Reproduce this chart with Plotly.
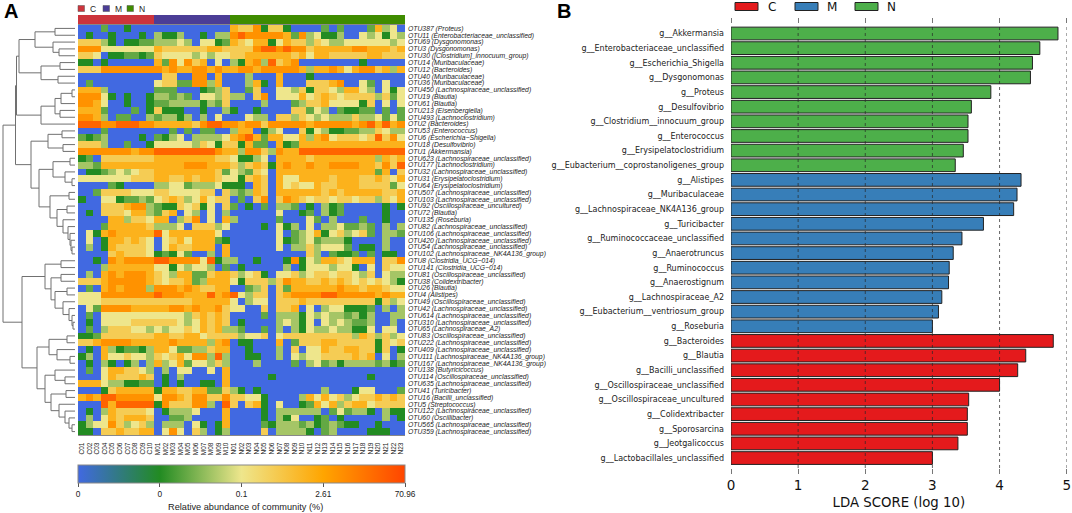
import plotly.graph_objects as go

W, H = 1072, 513

OTU_LABELS = ["OTU387 (Proteus)", "OTU11 (Enterobacteriaceae_unclassified)", "OTU69 (Dysgonomonas)", "OTU3 (Dysgonomonas)",
 "OTU30 ([Clostridium]_innocuum_group)", "OTU14 (Muribaculaceae)", "OTU12 (Bacteroides)", "OTU40 (Muribaculaceae)",
 "OTU36 (Muribaculaceae)", "OTU450 (Lachnospiraceae_unclassified)", "OTU19 (Blautia)", "OTU61 (Blautia)",
 "OTU213 (Eisenbergiella)", "OTU493 (Lachnoclostridium)", "OTU2 (Bacteroides)", "OTU53 (Enterococcus)",
 "OTU6 (Escherichia−Shigella)", "OTU18 (Desulfovibrio)", "OTU1 (Akkermansia)", "OTU623 (Lachnospiraceae_unclassified)",
 "OTU177 (Lachnoclostridium)", "OTU32 (Lachnospiraceae_unclassified)", "OTU31 (Erysipelatoclostridium)", "OTU64 (Erysipelatoclostridium)",
 "OTU507 (Lachnospiraceae_unclassified)", "OTU103 (Lachnospiraceae_unclassified)", "OTU92 (Oscillospiraceae_uncultured)", "OTU72 (Blautia)",
 "OTU135 (Roseburia)", "OTU82 (Lachnospiraceae_unclassified)", "OTU106 (Lachnospiraceae_unclassified)", "OTU420 (Lachnospiraceae_unclassified)",
 "OTU54 (Lachnospiraceae_unclassified)", "OTU102 (Lachnospiraceae_NK4A136_group)", "OTU8 (Clostridia_UCG−014)", "OTU141 (Clostridia_UCG−014)",
 "OTU81 (Oscillospiraceae_unclassified)", "OTU38 (Colidextribacter)", "OTU26 (Blautia)", "OTU4 (Alistipes)",
 "OTU49 (Oscillospiraceae_unclassified)", "OTU42 (Lachnospiraceae_unclassified)", "OTU614 (Lachnospiraceae_unclassified)", "OTU310 (Lachnospiraceae_unclassified)",
 "OTU65 (Lachnospiraceae_A2)", "OTU83 (Oscillospiraceae_unclassified)", "OTU222 (Lachnospiraceae_unclassified)", "OTU409 (Lachnospiraceae_unclassified)",
 "OTU111 (Lachnospiraceae_NK4A136_group)", "OTU167 (Lachnospiraceae_NK4A136_group)", "OTU138 (Butyricicoccus)", "OTU114 (Oscillospiraceae_unclassified)",
 "OTU635 (Lachnospiraceae_unclassified)", "OTU41 (Turicibacter)", "OTU16 (Bacilli_unclassified)", "OTU5 (Streptococcus)",
 "OTU122 (Lachnospiraceae_unclassified)", "OTU60 (Oscillibacter)", "OTU565 (Lachnospiraceae_unclassified)", "OTU359 (Lachnospiraceae_unclassified)"]

SAMPLES_C = ["C01","C02","C03","C04","C05","C06","C07","C08","C09","C10"]
SAMPLES_M = ["M01","M02","M03","M04","M05","M06","M07","M08","M09","M10"]
SAMPLES_N = ["N01","N02","N03","N04","N05","N06","N07","N08","N09","N10","N11","N12","N13","N14","N15","N16","N17","N18","N19","N20","N21","N22","N23"]

# abundance class of each cell, one string per OTU (0 = absent ... 8 = highest)
C_CLASS = ["0002001000","0100100010","5553101122","7774444444","5540112212","1101000000","5557777777","0000000000","0200000000","6663000000",
 "7774101001","7764001001","6662000201","7763022003","8887788877","0002000000","2123000010","5553002001","7777777677","1205555555",
 "3326666666","0112343455","4444444555","0000210000","0025555444","1004412232","0005556773","0105554663","0000663554","0002666665",
 "0416766666","0401665654","0301655554","0000565554","0010767777","0003666666","0306767776","5556777776","0206767773","4447777777",
 "4445555555","0427777666","0204444444","0104444555","0203555443","1125555555","5567777666","0106312213","1306445443","0103101303",
 "0204665543","0004655565","6664331122","0001566666","6768877777","0008688888","0103655554","0304656665","1344753453","1105565566"]
M_CLASS = ["0000000000","3113001033","3334304412","6555555665","5444434344","6274756040","7676677676","0550077060","4552277360","2220001235",
 "3323204435","2233331325","5111001003","2331303040","6666657887","0020202200","2134033334","4444435415","8888888876","6666666655",
 "6666777666","6666666652","6655656654","3344233341","5544445505","4565346455","2115451405","2560430403","6603570406","3334055534",
 "8466666640","0456466621","0465566606","1214200306","8877774813","4414344302","5436622566","5455623666","7776765566","8777666867",
 "5555566666","6677676675","4444356565","5554346565","4344546563","6655664555","6676666367","6642233566","5456477383","6346244353",
 "0304400406","0103000006","0101001106","1665566225","4776577557","1755577308","0133340006","0022300006","0333041016","0474053013"]
N_CLASS = ["65571551000020200026340","78777776273411300434143","65466146553543344444434","55578878775666667766656",
 "55666666564665555566555","31673856700000000100000","67767777763667646775636","00300060001000000000000",
 "00361060005556700420400","00250044351554366430414","33057044464565455553524","00003000235564444150404",
 "10010000552430211220202","00433055354343335334242","76775777776777776786867","36601340051431122335433",
 "67862664463674555458574","51622061266666666666666","63775376688888888888888","41134066665666666663656",
 "53565167667667777665758","43254066666666666662605","41565064466665666556546","11065064544655666555524",
 "32365066666656566666556","02057057654554554553546","20102033201031200000101","00000040012031200000100",
 "30000020004203000200100","00001041304033422320303","00000040234614534520332","00000041234233310000300",
 "00000040335344420110300","00000000005302112020110","30010001714366546660557","01000003014443441040544",
 "53451044534554554350433","41555357665565654545431","00235052666666766566544","84355056777788777776766",
 "40344055565555555551534","44005055604034411120303","00002033314343323130033","01000034314043432230030",
 "32002030314334331140440","53445045555555553653534","01100060255566555551545","00100030504465566551501",
 "00110030434455556560403","00030000203423133332312","00000000000000000000000","00000100000000000010000",
 "00000000000000000000000","31010000000030001440002","55441000036464534556565","50561040012646356645555",
 "00001033333302423310311","00001031400120100000301","00002133323123211001000","00005033331023000011100"]

CLASS_LEVEL = [0.0, 0.25, 0.33, 0.41, 0.5, 0.6, 0.7, 0.8, 0.92]

COLORBAR_TICKS = ["0", "0", "0.1", "2.61", "70.96"]

GROUP_NAMES = ["C", "M", "N"]

# Cluster tree: [distance, left, right]; integers are row numbers
TREE = [72,
  [59.5,
    [58.5,
      [56,
        [40, [20, 0, 1], [22, 2, [16, 3, 4]]],
        [34, [15, 5, 6], [17, 7, 8]]],
      [34,
        [20, [14, [3, 9, 10], 11], [15, 12, 13]],
        14]],
    [44,
      [27, [13, 15, 16], [12, 17, 18]],
      [36,
        [22, [5, 19, 20], [10, 21, [3, 22, 23]]],
        [25, [6, 24, 25], [18, [8, 26, 27], [12, 28, [7, 29, [5, 30, [4, 31, [3, 32, 33]]]]]]]]]],
  [53,
    [30,
      [14, 34, 35],
      [24, [14, 36, 37], [20, [8, 38, 39], [12, 40, [6, 41, [3, 42, [2, 43, 44]]]]]]],
    [38,
      [26, [8, 45, 46], [18, 47, [5, 48, 49]]],
      [30,
        [20, 50, [10, 51, 52]],
        [24, [9, 53, 54], [16, 55, [10, 56, [6, 57, [3, 58, 59]]]]]]]]]

LDA_N_NAMES = ["g__Akkermansia", "g__Enterobacteriaceae_unclassified", "g__Escherichia_Shigella", "g__Dysgonomonas", "g__Proteus",
 "g__Desulfovibrio", "g__Clostridium__innocuum_group", "g__Enterococcus", "g__Erysipelatoclostridium", "g__Eubacterium__coprostanoligenes_group"]
LDA_N_VALUES = [4.87, 4.60, 4.49, 4.46, 3.87, 3.58, 3.53, 3.53, 3.46, 3.34]
LDA_M_NAMES = ["g__Alistipes", "g__Muribaculaceae", "g__Lachnospiraceae_NK4A136_group", "g__Turicibacter", "g__Ruminococcaceae_unclassified",
 "g__Anaerotruncus", "g__Ruminococcus", "g__Anaerostignum", "g__Lachnospiraceae_A2", "g__Eubacterium__ventriosum_group", "g__Roseburia"]
LDA_M_VALUES = [4.32, 4.26, 4.21, 3.76, 3.44, 3.31, 3.25, 3.24, 3.14, 3.09, 3.00]
LDA_C_NAMES = ["g__Bacteroides", "g__Blautia", "g__Bacilli_unclassified", "g__Oscillospiraceae_unclassified", "g__Oscillospiraceae_uncultured",
 "g__Colidextribacter", "g__Sporosarcina", "g__Jeotgalicoccus", "g__Lactobacillales_unclassified"]
LDA_C_VALUES = [4.80, 4.39, 4.27, 4.00, 3.54, 3.52, 3.52, 3.38, 3.00]
LDA_TICKS = [0, 1, 2, 3, 4, 5]


def px(x): return x / W
def py(y): return 1 - y / H

SANS = "Liberation Sans"
DEJAVU = "DejaVu Sans"
HEAT_COLORS = [[0, "#4169E1"], [0.25, "#228B22"], [0.5, "#EEE68C"], [0.75, "#FFA500"], [1, "#FF4500"]]

samples = SAMPLES_C + SAMPLES_M + SAMPLES_N
n_rows = len(OTU_LABELS)
z = [[CLASS_LEVEL[int(ch)] for ch in C_CLASS[i] + M_CLASS[i] + N_CLASS[i]] for i in range(n_rows)]

fig = go.Figure()

# Heatmap
fig.add_trace(go.Heatmap(
    z=z, x=list(range(len(samples))), y=list(range(n_rows)),
    zmin=0, zmax=1, colorscale=HEAT_COLORS, xaxis="x", yaxis="y", hoverinfo="skip",
    colorbar=dict(orientation="h", x=px(78), xanchor="left", y=py(465), yanchor="top", yref="paper",
                  lenmode="pixels", len=327, thicknessmode="pixels", thickness=18, xpad=0, ypad=0,
                  outlinecolor="#888", outlinewidth=1, tickmode="array",
                  tickvals=[0, 0.25, 0.5, 0.75, 1], ticktext=COLORBAR_TICKS, ticks="outside", ticklen=4,
                  tickcolor="#555", tickfont=dict(family=SANS, size=8.3, color="#222"))))

# Group strip
group_idx = [0] * len(SAMPLES_C) + [1] * len(SAMPLES_M) + [2] * len(SAMPLES_N)
fig.add_trace(go.Heatmap(z=[group_idx], x=list(range(len(samples))), y=[0], zmin=0, zmax=2,
    colorscale=[[0, "#CC343C"], [0.5, "#4B3D96"], [1, "#3F8C00"]], showscale=False,
    xaxis="x2", yaxis="y2", hoverinfo="skip"))

# Dendrogram from the tree
segs_x, segs_y = [], []
def walk(node):
    if isinstance(node, int):
        return 0, node
    h, a, b = node
    ha, ya = walk(a)
    hb, yb = walk(b)
    segs_x.extend([ha, h, h, hb, None])
    segs_y.extend([ya, ya, yb, yb, None])
    return h, (ya + yb) / 2
root_h, root_y = walk(TREE)
fig.add_trace(go.Scatter(x=segs_x, y=segs_y, mode="lines", xaxis="x3", yaxis="y3",
                         line=dict(color="#707070", width=1), hoverinfo="skip", showlegend=False))

# LDA bars
lda_groups = [(LDA_N_NAMES, LDA_N_VALUES, "#4DAF4A"), (LDA_M_NAMES, LDA_M_VALUES, "#377EB8"), (LDA_C_NAMES, LDA_C_VALUES, "#E41A1C")]
all_names = LDA_N_NAMES + LDA_M_NAMES + LDA_C_NAMES
for names, vals, col in lda_groups:
    fig.add_trace(go.Bar(x=vals, y=names, orientation="h", xaxis="x4", yaxis="y4", width=0.87,
                         marker=dict(color=col, line=dict(color="#222", width=1)), showlegend=False, hoverinfo="skip"))

shapes = []
annots = []
# Dotted guide lines over the bars, tied to the axis ticks
for t in LDA_TICKS[1:]:
    shapes.append(dict(type="line", xref="x4", yref="paper", x0=t, x1=t, y0=py(468), y1=py(24),
                       line=dict(color="rgba(40,40,40,0.7)", width=1, dash="dot"), layer="above"))

# Legend of panel A
for name, col, x0, tx in zip(GROUP_NAMES, ["#CC343C", "#4B3D96", "#3F8C00"], [78, 103, 127], [88, 113, 137]):
    shapes.append(dict(type="rect", xref="paper", yref="paper", x0=px(x0), x1=px(x0 + 6.5), y0=py(11.5), y1=py(5.5),
                       fillcolor=col, line=dict(color="#555", width=0.5)))
    annots.append(dict(text=name, xref="paper", yref="paper", x=px(tx), y=py(8.5), showarrow=False,
                       xanchor="left", yanchor="middle", font=dict(family=SANS, size=8.5, color="#222")))
# Legend of panel B
for name, col, x0, tx in zip(GROUP_NAMES, ["#E41A1C", "#377EB8", "#4DAF4A"], [735, 795, 855], [766, 825, 885]):
    shapes.append(dict(type="rect", xref="paper", yref="paper", x0=px(x0), x1=px(x0 + 23), y0=py(10.5), y1=py(2.5),
                       fillcolor=col, line=dict(color="#222", width=1)))
    annots.append(dict(text=name, xref="paper", yref="paper", x=px(tx), y=py(7), showarrow=False,
                       xanchor="left", yanchor="middle", font=dict(family=DEJAVU, size=12, color="#111")))

annots.append(dict(text="<b>A</b>", xref="paper", yref="paper", x=px(2), y=py(11.5), showarrow=False, xanchor="left",
                   yanchor="middle", font=dict(family=SANS, size=20, color="black")))
annots.append(dict(text="<b>B</b>", xref="paper", yref="paper", x=px(555), y=py(10.5), showarrow=False, xanchor="left",
                   yanchor="middle", font=dict(family=SANS, size=20, color="black")))
annots.append(dict(text="Relative abundance of community (%)", xref="paper", yref="paper", x=px(245), y=py(506.5),
                   showarrow=False, xanchor="center", yanchor="middle", font=dict(family=SANS, size=9.2, color="#222")))

fig.update_layout(
    width=W, height=H, margin=dict(l=0, r=0, t=0, b=0, autoexpand=False), paper_bgcolor="white", plot_bgcolor="white",
    bargap=0.13, barmode="overlay", showlegend=False, shapes=shapes, annotations=annots,
    xaxis=dict(domain=[px(78), px(405)], range=[-0.5, 42.5], tickmode="array", tickvals=list(range(len(samples))),
               ticktext=samples, tickangle=-90, tickfont=dict(family=SANS, size=6.5, color="#222"), ticklabelstandoff=4,
               showgrid=False, zeroline=False, ticks="", ticklen=0, showline=True, mirror=True, linecolor="#888", linewidth=1),
    yaxis=dict(domain=[py(435), py(25)], range=[n_rows - 0.5, -0.5], side="right", anchor="x", tickmode="array",
               tickvals=list(range(n_rows)), ticktext=[f"<i>{t}</i>" for t in OTU_LABELS], ticklabelstandoff=2,
               tickfont=dict(family=SANS, size=6.8, color="#222"), showgrid=False, zeroline=False, ticks="", automargin=False),
    xaxis2=dict(domain=[px(78), px(405)], range=[-0.5, 42.5], anchor="y2", visible=False),
    yaxis2=dict(domain=[py(24), py(15)], range=[-0.5, 0.5], anchor="x2", visible=False),
    xaxis3=dict(domain=[0, px(75)], range=[75, 0], anchor="y3", visible=False),
    yaxis3=dict(domain=[py(435), py(25)], range=[n_rows - 0.5, -0.5], anchor="x3", visible=False),
    xaxis4=dict(domain=[px(731), px(1066.7)], range=[0, 5], anchor="y4", tickmode="array", tickvals=LDA_TICKS,
                ticks="outside", ticklen=5, tickcolor="#777", tickwidth=1, mirror="ticks", showline=True,
                linecolor="rgba(0,0,0,0)", showgrid=False, zeroline=False, tickfont=dict(family=DEJAVU, size=13.5, color="#111"),
                title=dict(text="LDA SCORE (log 10)", font=dict(family=DEJAVU, size=13.3, color="#111"), standoff=5)),
    yaxis4=dict(domain=[py(468), py(24)], range=[29.68, -0.649], anchor="x4", type="category", categoryorder="array",
                categoryarray=all_names, showgrid=False, zeroline=False, showline=False, ticks="", ticklabelstandoff=6,
                tickfont=dict(family=DEJAVU, size=8, color="#222")),
)
fig.write_html("out.html", config=dict(displayModeBar=False),
               post_script="document.body.style.margin='0';document.documentElement.style.overflow='hidden';")
